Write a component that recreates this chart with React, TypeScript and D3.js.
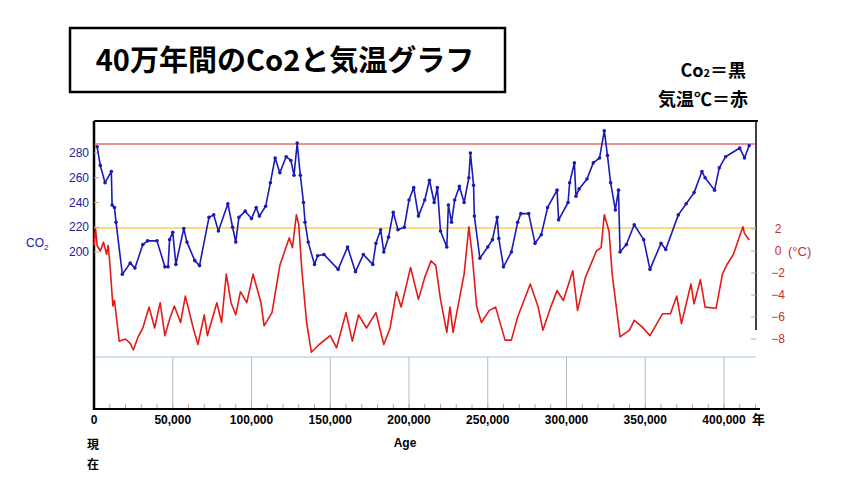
import * as d3 from 'd3'

// CO2 (ppm) vs age (kyr)
const co2Age = [2,4,7,11,11.5,13,14,18,23,26,31,34,40,45,47,48,50,52,57,59,64,67,73,76,79,85,88,90,92,96,100,103,105,109,112,115,118,122,125,127,129,131,133,134,136,140,142,146,155,161,166,171,177,179,182,184,187,190,193,197,200,203,206,210,213,216,218,220,224,225,227,229,232,235,238,239,241,241.5,245,250,253,256,257,260,265,269,271,276,280,284,288,294,295,301,302,305,306,308,313,317,321,324,326,328,331,333,334,338,343,349,353,360,363,371,376,381,386,388,394,397,401,410,413,416]
const co2Val = [285,270,256,265,238,236,224,182,191,187,206,209,209,188,188,210,216,190,219,208,193,189,228,230,217,239,220,208,228,233,227,236,229,237,256,276,264,277,274,262,288,262,240,224,208,190,197,198,186,204,184,198,190,207,218,200,212,232,218,220,242,252,229,242,258,240,252,217,204,238,224,242,253,240,260,280,254,229,195,204,210,228,211,188,200,224,231,231,207,214,236,250,226,240,256,272,245,251,259,272,276,298,278,256,234,250,200,206,222,210,186,207,202,230,239,248,265,260,250,268,277,284,276,286]

// temperature (°C) vs age (kyr)
const tAge = [0,1,2,4,6,8,9,10,12,13,16,20,23,25,28,31,35,38.5,42,45,48,51,55,58,63,66,70,72,78,81,84,87,90,93,97,101,106,108,113,118,124,126,128.5,130,132,135,138,143,150,154,160,164,168,173,179,184,188,192,195,201,206,210,214,217,220,224,226,228,231,235,238,240,243,246,251,255,261,265,269,277,282,285,290,294,298,304,307,312,319,322,324,327,329,334,340,343,348,353,361,366,370,373,379,381,385,388,395,399,402,406,412,413,416]
const tVal = [0.5,2,0.5,0,0.8,-0.3,0.5,-1,-5,-4.5,-8.2,-8,-8.4,-9,-7.8,-7,-5.1,-7,-4.7,-7.7,-6.2,-5,-6.5,-4.1,-7,-8.5,-5.8,-7.7,-4.7,-6.5,-2.1,-4.7,-5.8,-3.7,-4.7,-2.1,-4.7,-6.8,-5.6,-1.3,1.2,0.3,3.3,2.4,-1.8,-6.5,-9.2,-8.5,-7.7,-8.8,-5.6,-8.2,-5.8,-7,-5.6,-8.5,-7,-3.7,-5.1,-1.5,-4.4,-2.4,-0.9,-1.3,-4.4,-7.4,-5.1,-7.4,-5.1,-2.1,2.2,-0.2,-5.1,-6.5,-5.4,-5.1,-8.1,-8.1,-6,-3,-5.1,-7.2,-5.1,-3.6,-4.5,-1.8,-5.4,-2.4,0,0.3,3.3,1.8,-2.1,-7.8,-7.2,-6.3,-6.9,-7.7,-5.7,-5.7,-4.1,-6.6,-3,-4.8,-2.6,-5.1,-5.2,-2.1,-1.2,-0.3,2.2,1.6,1]

const co2Ticks = [200, 220, 240, 260, 280]
const tempTicks = [2, 0, -2, -4, -6, -8]
const ageTicks = [0, 50, 100, 150, 200, 250, 300, 350, 400]

const x = d3.scaleLinear().domain([0, 400]).range([94, 724])
const yC = d3.scaleLinear().domain([200, 280]).range([252, 153])
const yT = d3.scaleLinear().domain([0, 2]).range([251, 229])

export default function App() {
  const co2 = co2Age.map((a, i) => [a, co2Val[i]] as [number, number])
  const temp = tAge.map((a, i) => [a, tVal[i]] as [number, number])
  const lineC = d3.line<[number, number]>().x(d => x(d[0])).y(d => yC(d[1]))
  const lineT = d3.line<[number, number]>().x(d => x(d[0])).y(d => yT(d[1]))
  const minor = d3.range(0, 421, 10)
  const sans = 'Arial, "Liberation Sans", sans-serif'
  const jp = '"Noto Sans CJK JP", sans-serif'
  return (
    <svg width={842} height={486} style={{ position: 'absolute', left: 0, top: 0, background: '#fff' }} fontFamily={sans}>
      <rect x={70} y={28} width={435} height={64} fill="#fff" stroke="#000" strokeWidth={2.5} />
      <text x={285} y={71} textAnchor="middle" fontSize={29} fontWeight="bold" fontFamily={jp}>40万年間のCo2と気温グラフ</text>
      <text x={746} y={77} textAnchor="end" fontSize={18} fontWeight="bold" fontFamily={jp}>Co<tspan fontSize={11}>2</tspan>＝黒</text>
      <text x={748} y={106} textAnchor="end" fontSize={18} fontWeight="bold" fontFamily={jp}>気温℃＝赤</text>

      {/* frame */}
      <line x1={94} x2={758} y1={121} y2={121} stroke="#000" strokeWidth={2} />
      <line x1={756} x2={756} y1={121} y2={330} stroke="#000" strokeWidth={1.5} />
      <line x1={94} x2={756} y1={357} y2={357} stroke="#9ccbe0" strokeWidth={1} />
      {ageTicks.slice(1).map(a => (
        <line key={a} x1={x(a)} x2={x(a)} y1={357} y2={409} stroke="#bbb" />
      ))}
      {minor.map(a => (
        <line key={a} x1={x(a)} x2={x(a)} y1={404} y2={409} stroke="#e0a070" />
      ))}
      <line x1={94} x2={94} y1={121} y2={410} stroke="#000" strokeWidth={2.5} />
      <line x1={93} x2={760} y1={409} y2={409} stroke="#000" strokeWidth={2} />

      <line x1={94} x2={756} y1={144} y2={144} stroke="#d22" strokeWidth={1.2} />
      <line x1={94} x2={756} y1={228} y2={228} stroke="#f5b800" strokeWidth={1.2} />

      {/* CO2 axis */}
      {co2Ticks.map(v => (
        <g key={v}>
          <text x={89} y={yC(v) + 4} textAnchor="end" fontSize={12} fill="#2020a0">{v}</text>
          <line x1={94} x2={99} y1={yC(v)} y2={yC(v)} stroke="#e0a070" />
        </g>
      ))}
      <text x={26} y={247} fontSize={12} fill="#2020a0">CO<tspan fontSize={8} dy={3}>2</tspan></text>

      {/* temperature axis */}
      {tempTicks.map(v => (
        <g key={v}>
          <text x={778} y={yT(v) + 4} textAnchor="middle" fontSize={12} fill="#c03030">{v < 0 ? '−' + Math.abs(v) : v}</text>
          <line x1={751} x2={756} y1={yT(v)} y2={yT(v)} stroke="#e0a070" />
        </g>
      ))}
      <text x={788} y={256} fontSize={13} fill="#c03030">(°C)</text>

      <path d={lineT(temp) ?? ''} fill="none" stroke="#e31a1a" strokeWidth={1.6} strokeLinejoin="round" />
      <path d={lineC(co2) ?? ''} fill="none" stroke="#1a1ab8" strokeWidth={1.6} strokeLinejoin="round" />
      {co2.map((d, i) => (
        <circle key={i} cx={x(d[0])} cy={yC(d[1])} r={1.8} fill="#1a1ab8" />
      ))}

      {ageTicks.map(a => (
        <text key={a} x={x(a)} y={424} textAnchor="middle" fontSize={12} fontWeight="bold">{d3.format(',')(a * 1000)}</text>
      ))}
      <text x={752} y={424} fontSize={13} fontWeight="bold" fontFamily={jp}>年</text>
      <text x={405} y={447} textAnchor="middle" fontSize={12} fontWeight="bold">Age</text>
      <text x={93} y={449} textAnchor="middle" fontSize={12} fontWeight="bold" fontFamily={jp}>現</text>
      <text x={93} y={469} textAnchor="middle" fontSize={12} fontWeight="bold" fontFamily={jp}>在</text>
    </svg>
  )
}
